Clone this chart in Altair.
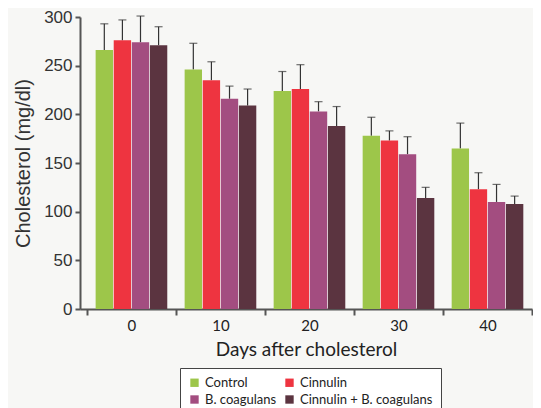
import altair as alt
import pandas as pd

days = ["0", "10", "20", "30", "40"]
groups = ["Control", "Cinnulin", "B. coagulans", "Cinnulin + B. coagulans"]
colors = ["#9dc64a", "#ee3440", "#a34d80", "#5b3440"]

control = [266, 246, 224, 178, 165]
cinnulin = [276, 235, 226, 173, 123]
bcoag = [274, 216, 203, 159, 110]
combo = [271, 209, 188, 114, 108]

control_err = [27, 27, 20, 19, 26]
cinnulin_err = [21, 19, 25, 10, 17]
bcoag_err = [27, 13, 10, 18, 18]
combo_err = [19, 17, 20, 11, 8]

series = [control, cinnulin, bcoag, combo]
errs = [control_err, cinnulin_err, bcoag_err, combo_err]

rows = []
for g, vals, es in zip(groups, series, errs):
    for d, v, e in zip(days, vals, es):
        rows.append({"day": d, "group": g, "value": v, "upper": v + e})
df = pd.DataFrame(rows)

ytitle = "Cholesterol (mg/dl)"
yfont = "Liberation Sans, Arial, Helvetica, sans-serif"

x_enc = alt.X(
    "day:N", sort=days,
    scale=alt.Scale(paddingInner=0, paddingOuter=0.039, align=1),
    axis=alt.Axis(
        title="Days after cholesterol", labelAngle=0, tickBand="extent",
        titleFont="Lato", titleFontSize=19, titleFontWeight="normal", titleColor="#222",
        labelFont="Lato", labelFontSize=15, labelColor="#222",
        domainColor="#555", domainWidth=2, tickColor="#555", tickWidth=2, tickSize=6,
        labelPadding=3, titlePadding=7,
    ),
)
xo_enc = alt.XOffset("group:N", sort=groups,
                     scale=alt.Scale(paddingInner=0.04, paddingOuter=0.48))

y_axis = alt.Axis(
    values=[0, 50, 100, 150, 200, 250, 300], title=ytitle,
    titleFont=yfont, titleFontSize=20, titleFontWeight="normal", titleColor="#333",
    labelFont=yfont, labelFontSize=17, labelColor="#333",
    domainColor="#555", domainWidth=2, tickColor="#555", tickWidth=2, tickSize=5,
    grid=False, labelPadding=3, titlePadding=10,
)
y_scale = alt.Scale(domain=[0, 300], nice=False)

base = alt.Chart(df).encode(x=x_enc, xOffset=xo_enc)

bars = base.mark_bar().encode(
    y=alt.Y("value:Q", scale=y_scale, axis=y_axis),
    color=alt.Color(
        "group:N", sort=groups,
        scale=alt.Scale(domain=groups, range=colors),
        legend=alt.Legend(
            title=None, orient="none", legendX=100, legendY=351, columns=2,
            direction="horizontal",
            symbolType="square", symbolSize=70, symbolStrokeWidth=0,
            labelFont="Lato", labelFontSize=13, labelColor="#222",
            strokeColor="#444", fillColor="#ffffff", padding=8,
            rowPadding=3, columnPadding=6,
        ),
    ),
)

rules = base.mark_rule(color="#333", strokeWidth=1.2).encode(
    y=alt.Y("value:Q", scale=y_scale, axis=y_axis),
    y2="upper:Q",
)
caps = base.mark_tick(color="#333", thickness=1.2, size=8).encode(
    y=alt.Y("upper:Q", scale=y_scale, axis=y_axis),
)

chart = (
    alt.layer(rules, bars, caps)
    .properties(width=452, height=292, background="#f7f7f5",
                padding={"left": 5, "top": 0, "right": 0, "bottom": 0})
    .configure_view(stroke=None)
)

chart.save("out.html", embed_options={"renderer": "svg", "actions": False})
